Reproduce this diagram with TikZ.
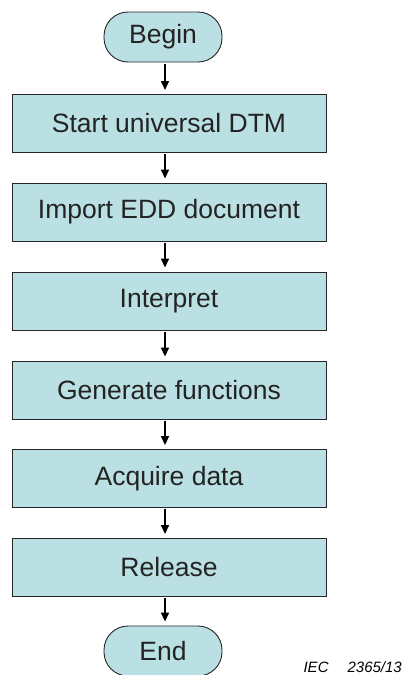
\documentclass[tikz,border=0pt]{standalone}
\usepackage{fontspec}
\setmainfont{Liberation Sans}
\usetikzlibrary{arrows.meta}
\definecolor{boxfill}{RGB}{186,224,227}
\definecolor{txt}{RGB}{35,35,35}
\begin{document}
\begin{tikzpicture}[x=1pt,y=-1pt,
  stepbox/.style={draw=black!85, line width=0.9pt, fill=boxfill, minimum width=314pt, minimum height=58pt, inner sep=0pt, font=\fontsize{26.5}{30}\selectfont, text=txt},
  term/.style={draw=black!85, line width=0.9pt, fill=boxfill, rounded corners=24pt, minimum width=118pt, minimum height=50pt, inner sep=0pt, font=\fontsize{26.5}{30}\selectfont, text=txt},
  flow/.style={line width=1.5pt, -{Triangle[width=8pt,length=9pt]}, shorten <=1.5pt, shorten >=4pt}]
\useasboundingbox (0,0) rectangle (403,675);
\node[term] (begin) at (163,37) {Begin};
\node[stepbox] (s1) at (169,123) {Start universal DTM};
\node[stepbox] (s2) at (169,212) {Import EDD document};
\node[stepbox] (s3) at (169,301) {Interpret};
\node[stepbox] (s4) at (169,390) {Generate functions};
\node[stepbox] (s5) at (169,478.5) {Acquire data};
\node[stepbox] (s6) at (169,567.5) {Release};
\node[term] (end) at (163,651) {End};
\coordinate (a0) at (165,62);
\coordinate (a0e) at (165,94);
\draw[flow] (a0) -- (a0e);
\draw[flow] (s1.south -| 165,0) -- (s2.north -| 165,0);
\draw[flow] (s2.south -| 165,0) -- (s3.north -| 165,0);
\draw[flow] (s3.south -| 165,0) -- (s4.north -| 165,0);
\draw[flow] (s4.south -| 165,0) -- (s5.north -| 165,0);
\draw[flow] (s5.south -| 165,0) -- (s6.north -| 165,0);
\draw[flow] (s6.south -| 165,0) -- (end.north -| 165,0);
\node[anchor=south east, inner sep=0pt, font=\fontsize{15}{17}\selectfont\itshape] (iec) at (402,673) {IEC\hspace{19pt}2365/13};
\end{tikzpicture}
\end{document}
